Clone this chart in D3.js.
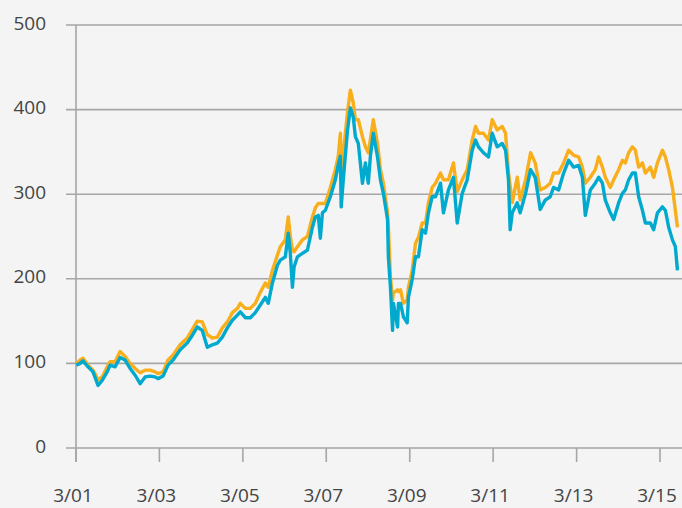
<!DOCTYPE html>
<html><head><meta charset="utf-8">
<script src="https://cdn.jsdelivr.net/npm/d3@7"></script>
<style>html,body{margin:0;padding:0;background:#f4f4f4;}svg{display:block;}</style>
</head><body>
<svg id="c" width="682" height="508"></svg>
<script>
// decimal years
const years = [2001.17,2001.26,2001.33,2001.45,2001.57,2001.69,2001.79,2001.91,2001.98,2002.10,2002.22,2002.34,2002.46,2002.58,2002.70,2002.82,2002.94,2003.06,2003.13,2003.25,2003.37,2003.49,2003.66,2003.83,2003.95,2004.07,2004.19,2004.31,2004.43,2004.55,2004.67,2004.79,2004.91,2005.03,2005.10,2005.22,2005.34,2005.46,2005.58,2005.70,2005.77,2005.87,2005.99,2006.06,2006.18,2006.25,2006.30,2006.35,2006.39,2006.47,2006.59,2006.71,2006.83,2006.90,2006.97,2007.02,2007.07,2007.14,2007.26,2007.38,2007.45,2007.50,2007.52,2007.57,2007.67,2007.74,2007.81,2007.86,2007.93,2008.03,2008.10,2008.17,2008.22,2008.29,2008.39,2008.46,2008.53,2008.63,2008.65,2008.70,2008.75,2008.77,2008.87,2008.89,2008.94,2009.01,2009.10,2009.13,2009.22,2009.30,2009.37,2009.46,2009.54,2009.61,2009.70,2009.78,2009.90,2009.97,2010.09,2010.21,2010.30,2010.42,2010.54,2010.66,2010.74,2010.81,2010.93,2011.05,2011.14,2011.26,2011.38,2011.46,2011.53,2011.57,2011.62,2011.74,2011.81,2011.94,2012.06,2012.17,2012.29,2012.41,2012.53,2012.61,2012.73,2012.85,2012.97,2013.09,2013.21,2013.30,2013.37,2013.49,2013.61,2013.69,2013.78,2013.85,2013.97,2014.05,2014.17,2014.26,2014.33,2014.41,2014.50,2014.57,2014.65,2014.74,2014.81,2014.93,2015.01,2015.10,2015.22,2015.29,2015.37,2015.46,2015.53,2015.58];
const orangeSeries = [100,104,106,98,92,81,84,96,102,102,114,108,100,94,89,92,92,90,88,90,104,110,122,130,140,150,149,134,130,131,142,149,160,165,171,165,165,171,184,195,190,210,228,238,246,273,250,234,232,238,246,250,273,284,289,289,289,289,308,329,345,372,330,349,396,423,408,388,388,368,356,349,365,388,360,329,313,278,261,202,175,183,187,185,187,171,175,190,210,242,249,266,266,290,308,313,325,317,317,337,303,317,329,364,380,372,372,364,388,376,380,372,325,310,290,320,293,317,349,337,305,308,313,325,325,337,352,346,344,332,313,320,329,344,332,320,308,317,329,340,337,349,356,352,332,337,325,332,320,337,352,344,329,308,281,261];
const tealSeries = [98,100,103,96,90,74,80,90,98,96,107,104,94,86,76,84,85,84,82,85,98,104,116,124,133,143,139,119,122,124,131,142,151,157,161,154,154,160,169,178,171,195,216,222,226,254,230,190,214,226,230,234,261,273,275,248,278,281,297,317,335,345,285,317,375,402,391,368,360,313,337,313,345,372,344,317,301,270,226,190,139,171,143,171,171,155,148,178,199,226,226,258,254,278,297,297,313,278,305,320,266,301,317,352,364,356,349,344,372,356,360,352,317,258,278,290,278,301,329,320,282,293,297,308,305,325,340,332,334,320,275,305,313,320,313,293,278,270,290,301,305,317,325,325,297,281,266,266,258,278,285,281,261,246,238,210];
const yTicks = [0,100,200,300,400,500];
const xTickLabels = ["3/01","3/03","3/05","3/07","3/09","3/11","3/13","3/15"];

const toDate = y => { const yr = Math.floor(y); const s = new Date(yr,0,1), e = new Date(yr+1,0,1); return new Date(+s + (y-yr)*(e-s)); };
const svg = d3.select("#c");
const x = d3.scaleTime().domain([new Date(2001,2,1), new Date(2015,2,1)]).range([76,660]);
const y = d3.scaleLinear().domain([0,500]).range([448,25]);
const grid = "#a6a6a6";

// gridlines
svg.append("g").selectAll("line").data(yTicks).join("line")
  .attr("x1",66).attr("x2",682).attr("y1",d=>y(d)).attr("y2",d=>y(d))
  .attr("stroke",grid).attr("stroke-width",1.6);
svg.append("g").selectAll("text").data(yTicks).join("text")
  .attr("x",46).attr("y",d=>y(d)+4.5).attr("text-anchor","end")
  .attr("font-family","Open Sans, sans-serif").attr("font-size",19).attr("fill","#444")
  .text(d=>d);
// y axis line
svg.append("line").attr("x1",76).attr("x2",76).attr("y1",25).attr("y2",462)
  .attr("stroke",grid).attr("stroke-width",1.6);
// x ticks
const tickDates = xTickLabels.map((l,i)=>new Date(2001+2*i,2,1));
const xa = svg.append("g");
xa.selectAll("line").data(tickDates).join("line")
  .attr("x1",d=>x(d)).attr("x2",d=>x(d)).attr("y1",448).attr("y2",462)
  .attr("stroke",grid).attr("stroke-width",1.6);
xa.selectAll("text").data(xTickLabels).join("text")
  .attr("x",(d,i)=>x(tickDates[i])-3).attr("y",502).attr("text-anchor","middle")
  .attr("font-family","Open Sans, sans-serif").attr("font-size",19).attr("fill","#444")
  .text(d=>d);

const line = d3.line().x(d=>x(toDate(d[0]))).y(d=>y(d[1]));
svg.append("path").datum(years.map((yr,i)=>[yr,orangeSeries[i]]))
  .attr("d",line).attr("fill","none").attr("stroke","#F9AE1B").attr("stroke-width",3.4).attr("stroke-linejoin","round");
svg.append("path").datum(years.map((yr,i)=>[yr,tealSeries[i]]))
  .attr("d",line).attr("fill","none").attr("stroke","#00A9CE").attr("stroke-width",3.4).attr("stroke-linejoin","round");
</script>
</body></html>
